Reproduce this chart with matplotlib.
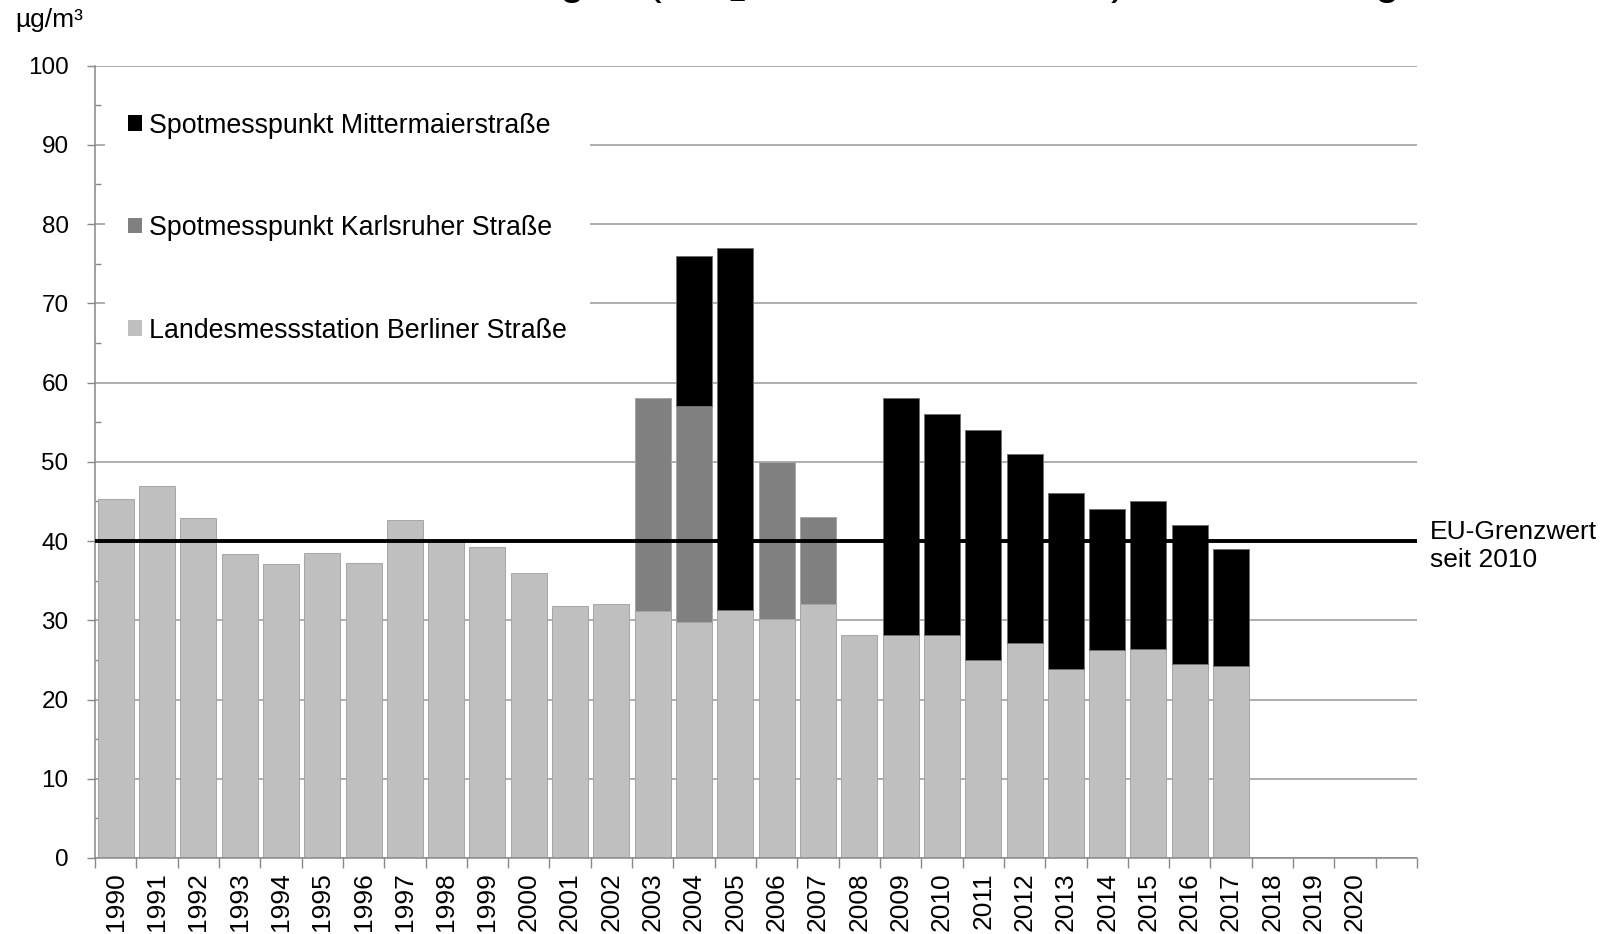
import numpy as np
import matplotlib
matplotlib.use("Agg")
import matplotlib.pyplot as plt
from matplotlib.patches import Patch

plt.rcParams['font.family'] = ['Liberation Sans', 'DejaVu Sans']
plt.rcParams['mathtext.fontset'] = 'custom'
plt.rcParams['mathtext.rm'] = 'Liberation Sans'
plt.rcParams['mathtext.it'] = 'Liberation Sans'

# slots 1990..2021, last slot has no label
years = [str(y) for y in range(1990, 2021)] + ['']

# NO2 annual means (µg/m³), 1990-2017
berliner = [45.3, 47.0, 42.9, 38.4, 37.1, 38.5, 37.2, 42.7, 40.0, 39.3,
            36.0, 31.8, 32.1, 31.2, 29.8, 31.3, 30.1, 32.1, 28.2, 28.2,
            28.2, 25.0, 27.1, 23.8, 26.2, 26.4, 24.5, 24.2]
karlsruher_years = [2003, 2004, 2006, 2007]
karlsruher = [58, 57, 50, 43]
mittermaier_years = [2004, 2005, 2009, 2010, 2011, 2012, 2013, 2014, 2015, 2016, 2017]
mittermaier = [76, 77, 58, 56, 54, 51, 46, 44, 45, 42, 39]
grenzwert = 40

labels = ['Spotmesspunkt Mittermaierstraße',
          'Spotmesspunkt Karlsruher Straße',
          'Landesmessstation Berliner Straße']
colors = ['#000000', '#808080', '#bfbfbf']

FS = 17.5
FS_LEG = 19.3
W, H = 1607, 934
fig = plt.figure(figsize=(W / 100, H / 100), dpi=100)
ax = fig.add_axes([95 / W, 1 - 858 / H, (1417 - 95) / W, (858 - 65.5) / H])

bw = 0.87
edge = '#a6a6a6'
x_b = np.arange(len(berliner))
ax.bar(x_b, berliner, bw, color=colors[2], edgecolor=edge, linewidth=0.7, zorder=2)

top = dict(zip(range(1990, 1990 + len(berliner)), berliner))
xk = [y - 1990 for y in karlsruher_years]
bk = [top[y] for y in karlsruher_years]
ax.bar(xk, np.array(karlsruher) - np.array(bk), bw, bottom=bk,
       color=colors[1], edgecolor=edge, linewidth=0.7, zorder=2)
for y, v in zip(karlsruher_years, karlsruher):
    top[y] = v

xm = [y - 1990 for y in mittermaier_years]
bm = [top[y] for y in mittermaier_years]
ax.bar(xm, np.array(mittermaier) - np.array(bm), bw, bottom=bm,
       color=colors[0], edgecolor='#707070', linewidth=0.7, zorder=2)

ax.axhline(grenzwert, color='black', lw=2.8, zorder=4)

ax.set_xlim(-0.5, len(years) - 0.5)
ax.set_ylim(0, 100)
ax.set_yticks(np.arange(0, 101, 10))
ax.set_yticks(np.arange(5, 100, 10), minor=True)
ax.set_xticks(np.arange(-0.5, len(years), 1))
ax.set_xticklabels([])
ax.set_xticks(np.arange(len(years)), minor=True)
ax.set_xticklabels(years, minor=True, rotation=90)

ax.tick_params(axis='y', which='major', direction='out', length=6, width=1,
               color='#888888', labelsize=FS, pad=13)
ax.tick_params(axis='y', which='minor', direction='in', length=4.3, width=1,
               color='#888888')
ax.tick_params(axis='x', which='major', direction='out', length=7, width=1,
               color='#888888')
ax.tick_params(axis='x', which='minor', length=0, labelsize=19, pad=10)

ax.grid(axis='y', which='major', color='#a0a0a0', lw=1.2, zorder=0)
ax.set_axisbelow(True)
for s in ['top', 'right']:
    ax.spines[s].set_visible(False)
for s in ['left', 'bottom']:
    ax.spines[s].set_color('#888888')
    ax.spines[s].set_linewidth(1.1)

handles = [Patch(facecolor=c, edgecolor='none') for c in colors]
leg = ax.legend(handles, labels, loc='upper left', fontsize=FS_LEG,
                bbox_to_anchor=(105 / W, 1 - 90 / H), bbox_transform=fig.transFigure,
                borderaxespad=0, frameon=True, fancybox=False, framealpha=1,
                facecolor='white', edgecolor='none', handlelength=0.52,
                handleheight=0.52, handletextpad=0.27, labelspacing=2.85,
                borderpad=0.85)
leg.set_zorder(5)

fig.text(15 / W, 1 - 20.5 / H, 'µg/m³', fontsize=19, va='center', ha='left')
fig.text(1430 / W, 1 - 546 / H, 'EU-Grenzwert\nseit 2010', fontsize=19,
         va='center', ha='left', linespacing=1.2)
# title sits mostly above the top edge, as in the source image
fig.text(92 / W, 1 + 6 / H,
         'Stickstoffdioxid-Messungen (NO$_2$-Jahresmittelwerte) in Heidelberg',
         fontsize=32, va='baseline', ha='left')

fig.savefig('out.png', dpi=100)
